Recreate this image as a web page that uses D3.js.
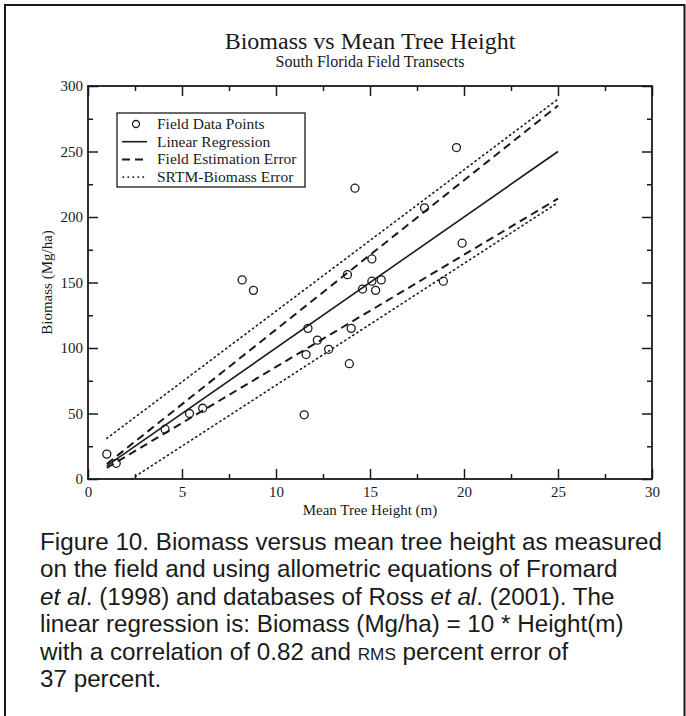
<!DOCTYPE html>
<html>
<head>
<meta charset="utf-8">
<script src="https://cdn.jsdelivr.net/npm/d3@7"></script>
<style>
  html, body { margin: 0; padding: 0; background: #fff; }
  svg { display: block; }
</style>
</head>
<body>
<svg id="fig" width="686" height="716"></svg>
<script>
// Field transects: mean tree height (m) and biomass (Mg/ha)
const heights = [1.0, 1.5, 4.1, 5.4, 6.1, 8.2, 8.8, 11.5, 11.6, 11.7, 12.2, 12.8, 13.8, 13.9, 14.0, 14.2, 14.6, 15.1, 15.1, 15.3, 15.6, 17.9, 18.9, 19.6, 19.9];
const biomass = [19, 12, 38, 50, 54, 152, 144, 49, 95, 115, 106, 99, 156, 88, 115, 222, 145, 168, 151, 144, 152, 207, 151, 253, 180];

// Line end points (height, biomass)
const lineHeights = [1, 25];
const regressionBiomass = [10, 250];
const fieldUpperBiomass = [11.5, 285];
const fieldLowerBiomass = [8.5, 214];
const srtmUpperBiomass = [31, 290];
const srtmLowerHeights = [2.3, 25];
const srtmLowerBiomass = [0, 211];

// Axis ticks
const xMajorTicks = [0, 5, 10, 15, 20, 25, 30];
const xMinorTicks = [2.5, 7.5, 12.5, 17.5, 22.5, 27.5];
const yMajorTicks = [0, 50, 100, 150, 200, 250, 300];
const yMinorTicks = [25, 75, 125, 175, 225, 275];

const legendLabels = ["Field Data Points", "Linear Regression", "Field Estimation Error", "SRTM-Biomass Error"];

const captionLines = [
  [["Figure 10. Biomass versus mean tree height as measured", "n"]],
  [["on the field and using allometric equations of Fromard", "n"]],
  [["et al", "i"], [". (1998) and databases of Ross ", "n"], ["et al", "i"], [". (2001). The", "n"]],
  [["linear regression is: Biomass (Mg/ha) = 10 * Height(m)", "n"]],
  [["with a correlation of 0.82 and ", "n"], ["RMS", "s"], [" percent error of", "n"]],
  [["37 percent.", "n"]]
];

const ink = "#1a1a1a";
const serif = "'Liberation Serif', 'Times New Roman', serif";
const svg = d3.select("#fig");

// outer figure frame
svg.append("path")
  .attr("d", "M5,716 V5 H684.5 V716")
  .attr("fill", "none").attr("stroke", ink).attr("stroke-width", 2);

const x = d3.scaleLinear().domain([0, 30]).range([88, 652]);
const y = d3.scaleLinear().domain([0, 300]).range([479, 86]);

// titles
svg.append("text").attr("x", 370).attr("y", 49).attr("text-anchor", "middle")
  .attr("font-family", serif).attr("font-size", 24).attr("fill", ink)
  .text("Biomass vs Mean Tree Height");
svg.append("text").attr("x", 370).attr("y", 67).attr("text-anchor", "middle")
  .attr("font-family", serif).attr("font-size", 16).attr("fill", ink)
  .text("South Florida Field Transects");

// axes (ticks point inward on all four sides)
function styleAxis(g) {
  g.select(".domain").remove();
  g.selectAll("line").attr("stroke", ink).attr("stroke-width", 1.5);
  g.selectAll("text").attr("font-family", serif).attr("font-size", 15).attr("fill", ink);
}
svg.append("g").attr("transform", `translate(0,${y(0)})`)
  .call(d3.axisBottom(x).tickValues(xMajorTicks).tickSize(-10).tickPadding(7).tickFormat(d3.format("d")))
  .call(styleAxis);
svg.append("g").attr("transform", `translate(0,${y(0)})`)
  .call(d3.axisBottom(x).tickValues(xMinorTicks).tickSize(-5).tickFormat(""))
  .call(styleAxis);
svg.append("g").attr("transform", `translate(0,${y(300)})`)
  .call(d3.axisTop(x).tickValues(xMajorTicks).tickSize(-10).tickFormat(""))
  .call(styleAxis);
svg.append("g").attr("transform", `translate(0,${y(300)})`)
  .call(d3.axisTop(x).tickValues(xMinorTicks).tickSize(-5).tickFormat(""))
  .call(styleAxis);
svg.append("g").attr("transform", `translate(${x(0)},0)`)
  .call(d3.axisLeft(y).tickValues(yMajorTicks).tickSize(-10).tickPadding(5).tickFormat(d3.format("d")))
  .call(styleAxis);
svg.append("g").attr("transform", `translate(${x(0)},0)`)
  .call(d3.axisLeft(y).tickValues(yMinorTicks).tickSize(-5).tickFormat(""))
  .call(styleAxis);
svg.append("g").attr("transform", `translate(${x(30)},0)`)
  .call(d3.axisRight(y).tickValues(yMajorTicks).tickSize(-10).tickFormat(""))
  .call(styleAxis);
svg.append("g").attr("transform", `translate(${x(30)},0)`)
  .call(d3.axisRight(y).tickValues(yMinorTicks).tickSize(-5).tickFormat(""))
  .call(styleAxis);

// plot frame
svg.append("rect")
  .attr("x", x(0)).attr("y", y(300))
  .attr("width", x(30) - x(0)).attr("height", y(0) - y(300))
  .attr("fill", "none").attr("stroke", ink).attr("stroke-width", 1.8);

// axis titles, centred on their axes
svg.append("text").attr("x", (x(0) + x(30)) / 2).attr("y", 515).attr("text-anchor", "middle")
  .attr("font-family", serif).attr("font-size", 15).attr("fill", ink)
  .text("Mean Tree Height (m)");
svg.append("text").attr("transform", `translate(52,${(y(0) + y(300)) / 2}) rotate(-90)`).attr("text-anchor", "middle")
  .attr("font-family", serif).attr("font-size", 15).attr("fill", ink)
  .text("Biomass (Mg/ha)");

// lines
const line = d3.line().x(d => x(d[0])).y(d => y(d[1]));
const pairs = (xs, ys) => xs.map((v, i) => [v, ys[i]]);
const series = [
  { pts: pairs(lineHeights, srtmUpperBiomass), dash: "1.2,3.6", w: 1.6, cap: "round" },
  { pts: pairs(srtmLowerHeights, srtmLowerBiomass), dash: "1.2,3.6", w: 1.6, cap: "round" },
  { pts: pairs(lineHeights, fieldUpperBiomass), dash: "8,5", w: 2, cap: "butt" },
  { pts: pairs(lineHeights, fieldLowerBiomass), dash: "8,5", w: 2, cap: "butt" },
  { pts: pairs(lineHeights, regressionBiomass), dash: null, w: 1.6, cap: "butt" }
];
series.forEach(s => {
  svg.append("path").attr("d", line(s.pts))
    .attr("fill", "none").attr("stroke", ink).attr("stroke-width", s.w)
    .attr("stroke-linecap", s.cap)
    .attr("stroke-dasharray", s.dash);
});

// field data points
svg.append("g").selectAll("circle").data(heights.map((h, i) => [h, biomass[i]]))
  .join("circle")
  .attr("cx", d => x(d[0])).attr("cy", d => y(d[1])).attr("r", 4)
  .attr("fill", "none").attr("stroke", ink).attr("stroke-width", 1.3);

// legend
const lg = svg.append("g");
lg.append("rect").attr("x", 117).attr("y", 113).attr("width", 188).attr("height", 74)
  .attr("fill", "#fff").attr("stroke", ink).attr("stroke-width", 1.3);
const rowY = i => 124 + i * 17.7;
lg.append("circle").attr("cx", 136).attr("cy", rowY(0)).attr("r", 3.5)
  .attr("fill", "none").attr("stroke", ink).attr("stroke-width", 1.3);
lg.append("line").attr("x1", 122).attr("x2", 147).attr("y1", rowY(1)).attr("y2", rowY(1))
  .attr("stroke", ink).attr("stroke-width", 1.6);
lg.append("line").attr("x1", 122).attr("x2", 147).attr("y1", rowY(2)).attr("y2", rowY(2))
  .attr("stroke", ink).attr("stroke-width", 2).attr("stroke-dasharray", "8,5");
lg.append("line").attr("x1", 123).attr("x2", 147).attr("y1", rowY(3)).attr("y2", rowY(3))
  .attr("stroke", ink).attr("stroke-width", 1.6).attr("stroke-linecap", "round").attr("stroke-dasharray", "0.5,4.5");
lg.selectAll("text.lab").data(legendLabels).join("text").attr("class", "lab")
  .attr("x", 157).attr("y", (d, i) => rowY(i) + 5)
  .attr("font-family", serif).attr("font-size", 15.5).attr("fill", ink)
  .text(d => d);

// caption: one text block, narrowed horizontally so the first line spans the figure
const capLeft = 40, capWidth = 622;
const capG = svg.append("g");
const cap = capG.append("text")
  .attr("font-family", "'Liberation Sans', Arial, sans-serif").attr("font-size", 24).attr("fill", ink);
const firstLines = [];
captionLines.forEach((parts, i) => {
  const t = cap.append("tspan").attr("x", 0).attr("y", 550 + i * 27.5);
  parts.forEach(([str, style], j) => {
    const sp = j === 0 ? t : cap.append("tspan");
    sp.text(str);
    if (style === "i") sp.attr("font-style", "italic");
    if (style === "s") sp.attr("font-size", 17);
  });
});
const probe = svg.append("text")
  .attr("font-family", "'Liberation Sans', Arial, sans-serif").attr("font-size", 24)
  .text(captionLines[0][0][0]);
const sx = capWidth / probe.node().getComputedTextLength();
probe.remove();
capG.attr("transform", `translate(${capLeft},0) scale(${sx},1)`);
</script>
</body>
</html>
